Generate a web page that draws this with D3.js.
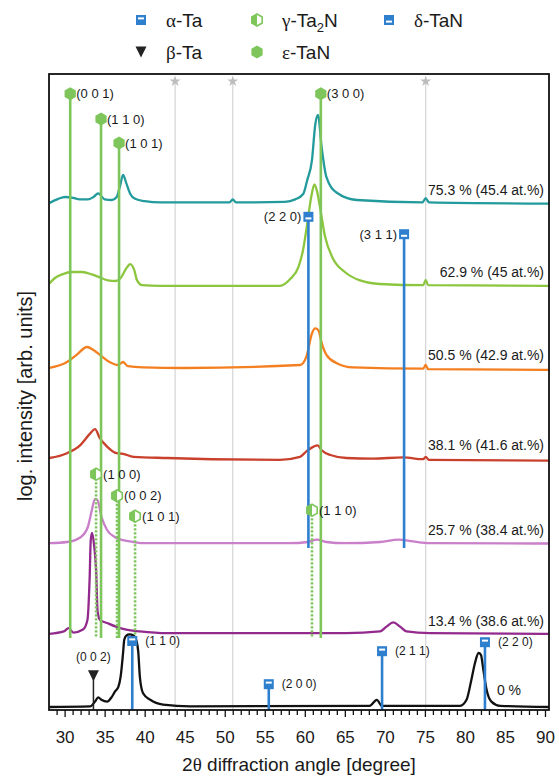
<!DOCTYPE html>
<html>
<head>
<meta charset="utf-8">
<script src="https://cdn.jsdelivr.net/npm/d3@7"></script>
<style>
  body { margin: 0; background: #fff; }
  text { font-family: "Liberation Sans", Arial, sans-serif; fill: #1a1a1a; }
  .greek { font-family: "Liberation Serif", "DejaVu Serif", serif; }
</style>
</head>
<body>
<svg id="chart" width="559" height="778"></svg>
<script>
// ---- data (angle in degree, log intensity in arb. units above the sample offset) ----
const angleDomain = [28.05, 90.5];
const intensityDomain = [0, 106];
const majorTicks = [30, 35, 40, 45, 50, 55, 60, 65, 70, 75, 80, 85, 90];
const minorTicks = [29, 31, 32, 33, 34, 36, 37, 38, 39, 41, 42, 43, 44, 46, 47, 48, 49, 51, 52, 53, 54,
  56, 57, 58, 59, 61, 62, 63, 64, 66, 67, 68, 69, 71, 72, 73, 74, 76, 77, 78, 79, 81, 82, 83, 84, 86, 87, 88, 89];

const sampleLabels = ['0 %', '13.4 % (38.6 at.%)', '25.7 % (38.4 at.%)', '38.1 % (41.6 at.%)',
  '50.5 % (42.9 at.%)', '62.9 % (45 at.%)', '75.3 % (45.4 at.%)'];
const sampleOffsets = [0.7, 12.7, 27.8, 42, 57, 70.8, 84.5];
const sampleColors = ['#111111', '#922a8d', '#c97fca', '#c9402c', '#f47f20', '#8cc63f', '#239a9b'];

const pattern00 = [[28.1,-0.2],[33.2,-0.1],[33.8,0.7],[34.2,1.4],[34.6,1.0],[35.3,0.7],[35.9,1.5],[36.3,2.4],
  [36.7,3.1],[37.0,4.9],[37.3,8.8],[37.45,11.0],[37.7,11.7],[38.1,11.9],[38.6,11.7],[39.0,10.7],[39.2,9.0],
  [39.4,4.8],[39.8,2.1],[40.7,1.0],[42.3,0.2],[45.7,-0.1],[68.1,0],[69.0,1.0],[69.6,0],[79.4,0],[80.2,1.0],
  [80.8,4.3],[81.25,7.1],[81.7,8.8],[82.0,8.5],[82.3,6.0],[82.7,2.7],[83.3,0.7],[84.4,0],[90.5,-0.2]];
const pattern134 = [[28.1,0],[29.9,0.4],[30.5,0.95],[31.1,0.2],[32.3,0.7],[32.85,2.3],[33.12,9.0],[33.27,15.7],
  [33.43,16.8],[33.68,14.8],[33.93,10.7],[34.12,3.7],[34.43,2.3],[35.3,1.8],[36.4,1.2],[37.7,0.7],[39.4,0.4],
  [42.8,0.1],[65.2,0.1],[69.4,0.4],[70.2,1.2],[71.05,1.9],[71.9,1.2],[72.7,0.4],[75.6,0.1],[90.5,0]];
const pattern257 = [[28.1,0],[30.3,0.2],[32.0,1.0],[32.9,2.7],[33.4,5.5],[33.8,7.4],[34.1,7.2],[34.6,4.4],
  [35.3,2.2],[36.3,1.0],[37.3,0.5],[38.6,0.2],[40.0,0],[58.0,0],[60.4,0.2],[61.5,0.6],[62.7,0.2],[65.0,0],
  [69.4,0.2],[71.7,0.6],[73.5,0.3],[75.6,0],[90.5,-0.05]];
const pattern381 = [[28.1,0],[30.3,0.8],[32.0,2.2],[33.2,4.1],[33.8,4.8],[34.4,3.3],[35.3,1.9],[36.5,0.8],
  [37.3,0.7],[38.6,0.2],[42.8,0],[56.9,-0.3],[59.4,0.2],[60.2,1.1],[61.1,1.9],[61.6,2.1],[62.1,1.3],[63.2,0.5],
  [65.2,0],[68.5,-0.1],[72.3,0.1],[74.8,-0.2],[75.1,0.2],[75.5,-0.3],[90.5,-0.45]];
const pattern505 = [[28.1,0],[30.3,1.0],[31.5,2.2],[32.8,3.5],[33.6,3.0],[34.4,2.2],[35.6,1.0],[36.7,0.5],
  [37.3,1.0],[37.9,0.3],[39.8,0.1],[45.0,0],[59.4,0.5],[60.2,1.9],[60.9,5.8],[61.3,6.6],[61.7,6.3],[62.1,4.2],
  [62.7,2.2],[64.0,0.8],[66.0,0.1],[74.8,-0.1],[75.1,0.5],[75.4,-0.2],[90.5,-0.3]];
const pattern629 = [[28.1,0.3],[28.8,1.2],[29.7,1.8],[30.9,2.2],[32.2,2.2],[33.4,1.8],[34.4,1.3],[35.4,0.8],
  [36.4,0.7],[37.0,1.2],[37.7,2.8],[38.2,3.5],[38.7,2.5],[39.05,0.8],[39.7,0],[41.9,-0.1],[56.9,-0.1],
  [58.15,1.0],[59.2,3.0],[59.8,6.0],[60.3,10.2],[60.8,14.7],[61.2,16.8],[61.5,15.8],[61.9,13.0],[62.5,8.3],
  [63.5,4.5],[65.0,2.2],[66.9,0.8],[69.4,0.2],[74.8,0],[75.1,0.9],[75.4,0],[90.5,-0.1]];
const pattern753 = [[28.1,0],[29.2,0.7],[30.1,1.0],[30.9,0.9],[31.9,0.6],[32.9,0.6],[33.6,1.0],[34.2,1.6],
  [35.0,0.6],[35.9,0.5],[36.5,1.0],[36.9,2.7],[37.3,4.7],[37.7,3.3],[38.2,1.5],[38.8,0.7],[40.0,0.3],[42.0,0.1],
  [50.6,0.1],[51.0,0.6],[51.4,0.1],[57.5,0.2],[58.8,0.6],[59.8,1.5],[60.3,3.8],[60.9,7.2],[61.3,13.0],
  [61.65,14.7],[62.1,9.3],[62.7,4.3],[64.0,1.7],[66.5,0.5],[74.7,0.1],[75.1,0.8],[75.5,0.1],[90.5,-0.1]];
const patterns = [pattern00, pattern134, pattern257, pattern381, pattern505, pattern629, pattern753];

// reference reflections: angle, hkl, level of the marker, lower end of the stick
const starAngles = [43.8, 51.0, 75.1];
const starLevel = 104.8;

const epsAngles = [30.7, 34.55, 36.8, 62.0];
const epsHkl = ['(0 0 1)', '(1 1 0)', '(1 0 1)', '(3 0 0)'];
const epsLevels = [102.7, 98.5, 94.5, 102.7];
const epsBottom = 12;

const gamAngles = [33.93, 36.55, 38.8, 60.9];
const gamHkl = ['(1 0 0)', '(0 0 2)', '(1 0 1)', '(1 1 0)'];
const gamLevels = [39.3, 35.7, 32.3, 33.3];
const gamBottom = 12;

const delAngles = [60.45, 72.4];
const delHkl = ['(2 2 0)', '(3 1 1)'];
const delLevels = [82.2, 79.3];
const delBottom = 27;

const alpAngles = [38.45, 55.5, 69.65, 82.5];
const alpHkl = ['(1 1 0)', '(2 0 0)', '(2 1 1)', '(2 2 0)'];
const alpLevels = [11.5, 4.3, 9.8, 11.3];

const betAngles = [33.6];
const betHkl = ['(0 0 2)'];
const betLevels = [5.7];

// ---- layout ----
const frame = {left: 49, right: 549, top: 74, bottom: 710};
const green = '#7ec65c', blue = '#2e80cf', grey = '#d4d4d4';

const svg = d3.select('#chart');
const x = d3.scaleLinear().domain(angleDomain).range([frame.left, frame.right]);
const y = d3.scaleLinear().domain(intensityDomain).range([frame.bottom, frame.top]);

// markers
const hexPts = (r) => d3.range(6).map(i => {
  const a = (-90 + i * 60) * Math.PI / 180;
  return [r * Math.cos(a), r * Math.sin(a)];
});
const drawHex = (g, r) => {
  g.append('polygon').attr('points', hexPts(r).join(' ')).attr('fill', green);
};
const drawHalfHex = (g, r) => {
  const p = hexPts(r);
  g.append('polygon').attr('points', p.join(' ')).attr('fill', '#fff')
    .attr('stroke', green).attr('stroke-width', 1.6);
  g.append('polygon').attr('points', [p[0], p[3], p[4], p[5]].join(' ')).attr('fill', green);
};
const drawSquare = (g, s, upper) => {
  g.append('rect').attr('x', -s / 2).attr('y', -s / 2).attr('width', s).attr('height', s)
    .attr('fill', blue);
  g.append('rect').attr('x', -s / 2 + 2).attr('y', upper ? -2.6 : 0.6).attr('width', s - 4).attr('height', 2)
    .attr('fill', '#fff');
};
const drawTri = (g, s) => {
  g.append('path').attr('d', `M${-s / 2},${-s / 2}L${s / 2},${-s / 2}L0,${s / 2}Z`).attr('fill', '#222');
};

// grey substrate lines with stars
svg.append('g').selectAll('line').data(starAngles).enter().append('line')
  .attr('x1', d => x(d)).attr('x2', d => x(d))
  .attr('y1', y(starLevel)).attr('y2', y(0))
  .attr('stroke', grey).attr('stroke-width', 1.2);
svg.append('g').selectAll('path').data(starAngles).enter().append('path')
  .attr('transform', d => `translate(${x(d)},${y(starLevel)})`)
  .attr('d', d3.symbol().type(d3.symbolStar).size(38))
  .attr('fill', '#bdbdbd');

// diffraction patterns
const line = d3.line().curve(d3.curveMonotoneX);
patterns.forEach((pat, i) => {
  svg.append('path')
    .datum(pat)
    .attr('d', line.x(d => x(d[0])).y(d => y(sampleOffsets[i] + d[1])))
    .attr('fill', 'none')
    .attr('stroke', sampleColors[i])
    .attr('stroke-width', 2.3)
    .attr('stroke-linejoin', 'round');
});

// sample labels
const labelG = svg.append('g').style('font-size', '14px');
sampleLabels.forEach((lab, i) => {
  const zero = i === 0;
  labelG.append('text')
    .attr('x', zero ? 521 : 544)
    .attr('y', y(sampleOffsets[i]) - (zero ? 11 : 8))
    .attr('text-anchor', 'end')
    .text(lab);
});

// sticks
const sticks = (angles, levels, bottom, color, dash) => {
  svg.append('g').selectAll('line').data(angles).enter().append('line')
    .attr('x1', d => x(d)).attr('x2', d => x(d))
    .attr('y1', (d, i) => y(levels[i])).attr('y2', y(bottom))
    .attr('stroke', color).attr('stroke-width', 2.6)
    .attr('stroke-dasharray', dash || null);
};
sticks(epsAngles, epsLevels, epsBottom, green);
sticks(gamAngles, gamLevels, gamBottom, green, '2.4,1.6');
sticks(delAngles, delLevels, delBottom, blue);
sticks(alpAngles, alpLevels, 0, blue);
svg.append('g').selectAll('line').data(betAngles).enter().append('line')
  .attr('x1', d => x(d)).attr('x2', d => x(d))
  .attr('y1', (d, i) => y(betLevels[i])).attr('y2', y(0))
  .attr('stroke', '#222').attr('stroke-width', 1.5);

// marker heads and hkl labels
const heads = (angles, levels, hkl, draw, dx, anchor, size) => {
  angles.forEach((a, i) => {
    const g = svg.append('g').attr('transform', `translate(${x(a)},${y(levels[i])})`);
    draw(g);
    g.append('text').attr('x', dx).attr('y', 0).attr('dy', '0.35em')
      .attr('text-anchor', anchor).style('font-size', size).text(hkl[i]);
  });
};
heads(epsAngles, epsLevels, epsHkl, g => drawHex(g, 6.5), 6, 'start', '13px');
heads(gamAngles, gamLevels, gamHkl, g => drawHalfHex(g, 6), 7, 'start', '13px');
heads(delAngles, delLevels, delHkl, g => drawSquare(g, 10, false), -7, 'end', '13px');
heads(alpAngles, alpLevels, alpHkl, g => drawSquare(g, 10, true), 13, 'start', '12px');
betAngles.forEach((a, i) => {
  const g = svg.append('g').attr('transform', `translate(${x(a)},${y(betLevels[i])})`);
  drawTri(g, 11);
  g.append('text').attr('x', 0).attr('y', -19).attr('dy', '0.35em')
    .attr('text-anchor', 'middle').style('font-size', '12px').text(betHkl[i]);
});

// frame
svg.append('rect')
  .attr('x', frame.left).attr('y', frame.top)
  .attr('width', frame.right - frame.left).attr('height', frame.bottom - frame.top)
  .attr('fill', 'none').attr('stroke', '#111').attr('stroke-width', 1.8);

// x axis
const axisMajor = d3.axisBottom(x).tickValues(majorTicks).tickSize(7).tickPadding(14)
  .tickFormat(d3.format('d'));
const axisMinor = d3.axisBottom(x).tickValues(minorTicks).tickSize(5).tickFormat('');
const gMaj = svg.append('g').attr('transform', `translate(0,${frame.bottom})`).call(axisMajor);
const gMin = svg.append('g').attr('transform', `translate(0,${frame.bottom})`).call(axisMinor);
[gMaj, gMin].forEach(g => {
  g.select('.domain').remove();
  g.selectAll('line').attr('stroke', '#111').attr('stroke-width', 1.3);
});
gMaj.selectAll('text').style('font-size', '17px').attr('fill', '#1a1a1a')
  .style('font-family', '"Liberation Sans", Arial, sans-serif');

// axis titles
const xt = svg.append('text').attr('x', (frame.left + frame.right) / 2).attr('y', 771)
  .attr('text-anchor', 'middle').style('font-size', '19px');
xt.append('tspan').text('2');
xt.append('tspan').attr('class', 'greek').text('θ');
xt.append('tspan').text(' diffraction angle [degree]');

svg.append('text')
  .attr('transform', `translate(32,396) rotate(-90)`)
  .attr('text-anchor', 'middle').style('font-size', '20px')
  .text('log. intensity [arb. units]');

// legend
const legend = svg.append('g').style('font-size', '19px');
const legendItem = (cx, cy, draw, greek, rest, sub, tail) => {
  const g = legend.append('g').attr('transform', `translate(${cx},${cy})`);
  draw(g);
  const t = g.append('text').attr('x', 25).attr('dy', '0.35em');
  t.append('tspan').attr('class', 'greek').text(greek);
  t.append('tspan').text(rest);
  if (sub) {
    t.append('tspan').attr('dy', 5).style('font-size', '13px').text(sub);
    t.append('tspan').attr('dy', -5).text(tail);
  }
};
legendItem(141, 20, g => drawSquare(g, 10, true), 'α', '-Ta');
legendItem(257, 20, g => drawHalfHex(g, 6), 'γ', '-Ta', '2', 'N');
legendItem(389, 20, g => drawSquare(g, 10, false), 'δ', '-TaN');
legendItem(141, 52, g => drawTri(g, 11), 'β', '-Ta');
legendItem(257, 52, g => drawHex(g, 6.5), 'ε', '-TaN');
</script>
</body>
</html>
